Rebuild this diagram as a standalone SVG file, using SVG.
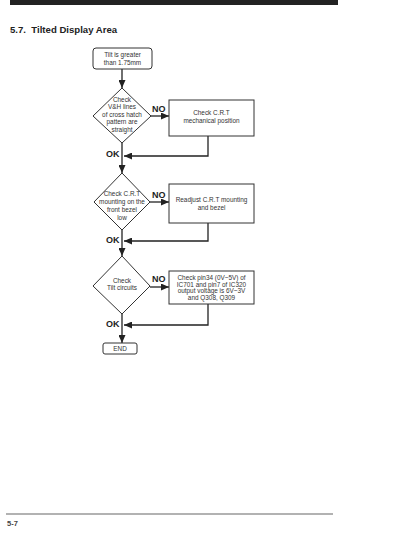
<svg xmlns="http://www.w3.org/2000/svg" width="400" height="543" viewBox="0 0 400 543">
<defs>
<marker id="ah" viewBox="0 0 8 7" refX="8" refY="3.5" markerWidth="8" markerHeight="7" markerUnits="userSpaceOnUse" orient="auto">
<path d="M0,0 L8,3.5 L0,7 Z" fill="#222"/>
</marker>
</defs>
<style>
.shape{fill:#fff;stroke:#333;stroke-width:1}
.t{font-family:"Liberation Sans",Arial,sans-serif;font-size:6.4px;fill:#333;text-anchor:middle}
.lbl{font-family:"Liberation Sans",Arial,sans-serif;font-size:9px;font-weight:bold;fill:#222}
.c{fill:none;stroke:#222;stroke-width:1.3}
</style>
<rect x="10" y="0" width="328" height="5" fill="#222"/>
<text x="10" y="33" font-family="'Liberation Sans',Arial,sans-serif" font-size="9.6" font-weight="bold" fill="#222" style="white-space:pre" xml:space="preserve">5.7.  Tilted Display Area</text>

<g id="connectors">
<line class="c" x1="122" y1="69" x2="122" y2="88" marker-end="url(#ah)"/>
<line class="c" x1="151" y1="116" x2="169" y2="116" marker-end="url(#ah)"/>
<polyline class="c" points="208,136 208,156 124,156" marker-end="url(#ah)"/>
<line class="c" x1="122" y1="143" x2="122" y2="173" marker-end="url(#ah)"/>
<line class="c" x1="150" y1="202" x2="169" y2="202" marker-end="url(#ah)"/>
<polyline class="c" points="208,223 208,241 124,241" marker-end="url(#ah)"/>
<line class="c" x1="122" y1="230" x2="122" y2="256" marker-end="url(#ah)"/>
<line class="c" x1="150" y1="287" x2="169" y2="287" marker-end="url(#ah)"/>
<polyline class="c" points="208,304 208,325 124,325" marker-end="url(#ah)"/>
<line class="c" x1="122" y1="314" x2="122" y2="343" marker-end="url(#ah)"/>
<text class="lbl" x="152" y="112">NO</text>
<text class="lbl" x="106" y="157">OK</text>
<text class="lbl" x="152" y="197.5">NO</text>
<text class="lbl" x="106" y="243">OK</text>
<text class="lbl" x="152" y="282">NO</text>
<text class="lbl" x="106" y="327">OK</text>
</g>

<g id="start">
<rect class="shape" x="93" y="48" width="59" height="21" rx="3"/>
<text class="t" x="122.5" y="57">Tilt is greater</text>
<text class="t" x="122.5" y="64.5">than 1.75mm</text>
</g>

<g id="d1">
<polygon class="shape" points="122,88 151,116 122,143 93,116"/>
<text class="t" x="122" y="101.5">Check</text>
<text class="t" x="122" y="109">V&amp;H lines</text>
<text class="t" x="122" y="116.5">of cross hatch</text>
<text class="t" x="122" y="124">pattern are</text>
<text class="t" x="122" y="131.5">straight</text>
</g>

<g id="b1">
<rect class="shape" x="169" y="100" width="85" height="36"/>
<text class="t" x="211.5" y="115">Check C.R.T</text>
<text class="t" x="211.5" y="122.5">mechanical position</text>
</g>

<g id="d2">
<polygon class="shape" points="122,173 150,202 122,230 94,202"/>
<text class="t" x="122" y="196">Check C.R.T</text>
<text class="t" x="122" y="204">mounting on the</text>
<text class="t" x="122" y="212">front bezel</text>
<text class="t" x="122" y="220">low</text>
</g>

<g id="b2">
<rect class="shape" x="169" y="184" width="85" height="39"/>
<text class="t" x="211.5" y="202">Readjust C.R.T mounting</text>
<text class="t" x="211.5" y="210">and bezel</text>
</g>

<g id="d3">
<polygon class="shape" points="122,256 150,286 122,314 93,286"/>
<text class="t" x="122" y="283">Check</text>
<text class="t" x="122" y="290">Tilt circuits</text>
</g>

<g id="b3">
<rect class="shape" x="169" y="271" width="85" height="33"/>
<text class="t" x="211.5" y="280">Check pin34 (0V~5V) of</text>
<text class="t" x="211.5" y="286.5">IC701 and pin7 of IC320</text>
<text class="t" x="211.5" y="293">output voltage is 6V~3V</text>
<text class="t" x="211.5" y="299.5">and Q308, Q309</text>
</g>

<g id="end">
<rect class="shape" x="103" y="343" width="34" height="11" rx="2"/>
<text class="t" x="120" y="350.8">END</text>
</g>

<line x1="6" y1="514" x2="333" y2="514" stroke="#666" stroke-width="1.2"/>
<text x="7" y="526" font-family="'Liberation Sans',Arial,sans-serif" font-size="7.5" font-weight="bold" fill="#444">5-7</text>
</svg>
